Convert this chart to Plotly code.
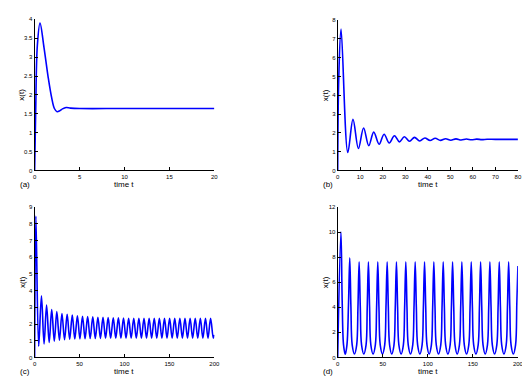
import plotly.graph_objects as go

# Panel (a)
t_a = [0, 0.12, 0.3, 0.6, 1.04, 1.5, 1.9, 2.2, 2.5, 2.8, 3.1, 3.5, 4.0, 5.0, 10, 20]
x_a = [0, 1.6, 3.3, 3.9, 3.26, 2.48, 1.92, 1.64, 1.555, 1.58, 1.63, 1.665, 1.65, 1.64, 1.64, 1.64]

# Panel (b)
t_b = [0, 0.5, 1.5, 4.5, 6.8, 9.2, 11.5, 13.8, 16.0, 18.4, 20.6, 22.9, 25.2, 27.4,
       29.6, 31.9, 34.1, 36.4, 38.7, 41.0, 43.3, 45.6, 47.9, 50.2, 52.5, 54.8,
       57.1, 59.4, 61.7, 64.0, 66.3, 70, 80]
x_b = [0, 5.0, 7.53, 0.96, 2.72, 1.17, 2.26, 1.32, 2.04, 1.39, 1.93, 1.46, 1.85, 1.52,
       1.79, 1.55, 1.76, 1.57, 1.73, 1.59, 1.71, 1.60, 1.69, 1.61, 1.68, 1.62,
       1.67, 1.63, 1.665, 1.64, 1.66, 1.655, 1.655]

# Panel (c)
t_c = [0, 1.4, 4.5, 7.6, 10.5, 13.3, 16.2, 19.0, 21.9, 24.7, 27.6, 30.4, 33.3, 36.2,
       39.0, 41.9, 44.7, 47.6, 50.4, 53.3, 56.1, 59.0, 61.8, 64.7, 67.5, 70.4, 73.2,
       76.1, 78.9, 81.8, 84.6, 87.5, 90.3, 93.2, 96.0, 98.9, 101.7, 104.6, 107.4,
       110.3, 113.1, 116.0, 118.8, 121.7, 124.5, 127.4, 130.2, 133.1, 135.9, 138.8,
       141.6, 144.5, 147.3, 150.2, 153.0, 155.9, 158.7, 161.6, 164.4, 167.3, 170.1,
       173.0, 175.8, 178.7, 181.5, 184.4, 187.2, 190.1, 192.9, 195.8, 198.8, 200]
x_c = [0, 8.47, 0.67, 3.69, 0.80, 3.14, 0.90, 2.87, 0.97, 2.75, 1.02, 2.63, 1.06, 2.58,
       1.08, 2.54, 1.10, 2.50, 1.11, 2.47, 1.12, 2.45, 1.13, 2.43, 1.14, 2.41, 1.14,
       2.40, 1.15, 2.39, 1.15, 2.38, 1.15, 2.37, 1.15, 2.36, 1.15, 2.35, 1.15,
       2.35, 1.15, 2.35, 1.15, 2.35, 1.15, 2.35, 1.15, 2.35, 1.15, 2.35,
       1.15, 2.35, 1.15, 2.35, 1.15, 2.35, 1.15, 2.35, 1.15, 2.35, 1.15,
       2.35, 1.15, 2.35, 1.15, 2.35, 1.15, 2.35, 1.15, 2.35, 1.15, 1.35]

# Panel (d)
t_d = [0, 3.6, 5.0, 6.5, 8.4, 10.3, 12.0,
       13.4, 14.7, 16.1, 18.6, 21.1, 22.5,
       23.8, 25.1, 26.5, 29.0, 31.5, 32.8,
       34.1, 35.4, 36.8, 39.3, 41.8, 43.2,
       44.5, 45.8, 47.2, 49.7, 52.2, 53.6,
       54.9, 56.2, 57.6, 60.0, 62.5, 63.9,
       65.2, 66.5, 67.9, 70.4, 72.9, 74.3,
       75.6, 76.9, 78.3, 80.8, 83.3, 84.7,
       86.0, 87.3, 88.7, 91.2, 93.7, 95.1,
       96.4, 97.7, 99.1, 101.5, 104.0, 105.4,
       106.7, 108.0, 109.4, 111.9, 114.4, 115.8,
       117.1, 118.4, 119.8, 122.3, 124.8, 126.2,
       127.5, 128.8, 130.2, 132.6, 135.1, 136.5,
       137.8, 139.1, 140.5, 143.0, 145.5, 146.9,
       148.2, 149.5, 150.9, 153.4, 155.9, 157.3,
       158.6, 159.9, 161.3, 163.7, 166.2, 167.6,
       168.9, 170.2, 171.6, 174.1, 176.6, 178.0,
       179.3, 180.6, 182.0, 184.5, 187.0, 188.4,
       189.7, 191.0, 192.4, 194.9, 197.4, 198.8,
       200]
x_d = [0, 10.04, 4.5, 1.0, 0.25, 1.0, 4.2,
       7.95, 4.0, 1.0, 0.27, 1.0, 4.0,
       7.63, 4.0, 1.0, 0.27, 1.0, 4.0,
       7.63, 4.0, 1.0, 0.27, 1.0, 4.0,
       7.63, 4.0, 1.0, 0.27, 1.0, 4.0,
       7.63, 4.0, 1.0, 0.27, 1.0, 4.0,
       7.63, 4.0, 1.0, 0.27, 1.0, 4.0,
       7.63, 4.0, 1.0, 0.27, 1.0, 4.0,
       7.63, 4.0, 1.0, 0.27, 1.0, 4.0,
       7.63, 4.0, 1.0, 0.27, 1.0, 4.0,
       7.63, 4.0, 1.0, 0.27, 1.0, 4.0,
       7.63, 4.0, 1.0, 0.27, 1.0, 4.0,
       7.63, 4.0, 1.0, 0.27, 1.0, 4.0,
       7.63, 4.0, 1.0, 0.27, 1.0, 4.0,
       7.63, 4.0, 1.0, 0.27, 1.0, 4.0,
       7.63, 4.0, 1.0, 0.27, 1.0, 4.0,
       7.63, 4.0, 1.0, 0.27, 1.0, 4.0,
       7.63, 4.0, 1.0, 0.27, 1.0, 4.0,
       7.63, 4.0, 1.0, 0.27, 1.0, 4.3,
       7.3]

panels = [
    dict(t=t_a, x=x_a, xr=[0, 20], xt=[0, 5, 10, 15, 20], yr=[0, 4],
         yt=[0, 0.5, 1, 1.5, 2, 2.5, 3, 3.5, 4], label="(a)"),
    dict(t=t_b, x=x_b, xr=[0, 80], xt=[0, 10, 20, 30, 40, 50, 60, 70, 80], yr=[0, 8],
         yt=[0, 1, 2, 3, 4, 5, 6, 7, 8], label="(b)"),
    dict(t=t_c, x=x_c, xr=[0, 200], xt=[0, 50, 100, 150, 200], yr=[0, 9],
         yt=[0, 1, 2, 3, 4, 5, 6, 7, 8, 9], label="(c)"),
    dict(t=t_d, x=x_d, xr=[0, 200], xt=[0, 50, 100, 150, 200], yr=[0, 12],
         yt=[0, 2, 4, 6, 8, 10, 12], label="(d)"),
]

W, H = 530, 379
# pixel boxes: left, right, top, bottom
boxes = [(25, 207.5, 8.5, 162), (332.7, 515.7, 9.3, 162),
         (25, 207.5, 199.3, 352), (332.7, 515.7, 199.3, 352)]

fig = go.Figure()
font = dict(family="Liberation Sans, Arial, sans-serif", color="black")
annotations = []
for i, (p, b) in enumerate(zip(panels, boxes)):
    n = "" if i == 0 else str(i + 1)
    l, r, top, bot = b
    fig.add_trace(go.Scatter(x=p["t"], y=p["x"], mode="lines",
                             line=dict(color="#0000FF", width=1.6, shape="spline", smoothing=1.0),
                             xaxis="x" + n, yaxis="y" + n, showlegend=False,
                             hoverinfo="skip"))
    ax = dict(domain=[l / W, r / W], range=p["xr"], tickvals=p["xt"],
              showgrid=False, zeroline=False, showline=True, linecolor="black",
              linewidth=1, ticks="inside", ticklen=3, tickcolor="black",
              tickfont=dict(size=6, **font), anchor="y" + n)
    ay = dict(domain=[1 - bot / H, 1 - top / H], range=p["yr"], tickvals=p["yt"],
              showgrid=False, zeroline=False, showline=True, linecolor="black",
              linewidth=1, ticks="inside", ticklen=3, tickcolor="black",
              tickfont=dict(size=6, **font), anchor="x" + n)
    fig.layout["xaxis" + n] = ax
    fig.layout["yaxis" + n] = ay
    annotations.append(dict(text="time t", x=(l + r) / 2 / W, y=1 - (bot + 14) / H,
                            xref="paper", yref="paper", showarrow=False,
                            font=dict(size=8, **font), xanchor="center", yanchor="middle"))
    annotations.append(dict(text="x(t)", x=(l - 13) / W, y=1 - (top + bot) / 2 / H,
                            xref="paper", yref="paper", showarrow=False, textangle=-90,
                            font=dict(size=8, **font), xanchor="center", yanchor="middle"))
    annotations.append(dict(text=p["label"], x=(l - 10) / W, y=1 - (bot + 14) / H,
                            xref="paper", yref="paper", showarrow=False,
                            font=dict(size=8, **font), xanchor="center", yanchor="middle"))

fig.update_layout(width=W, height=H, margin=dict(l=0, r=0, t=0, b=0),
                  paper_bgcolor="white", plot_bgcolor="white",
                  annotations=annotations)
fig.write_html("out.html")
